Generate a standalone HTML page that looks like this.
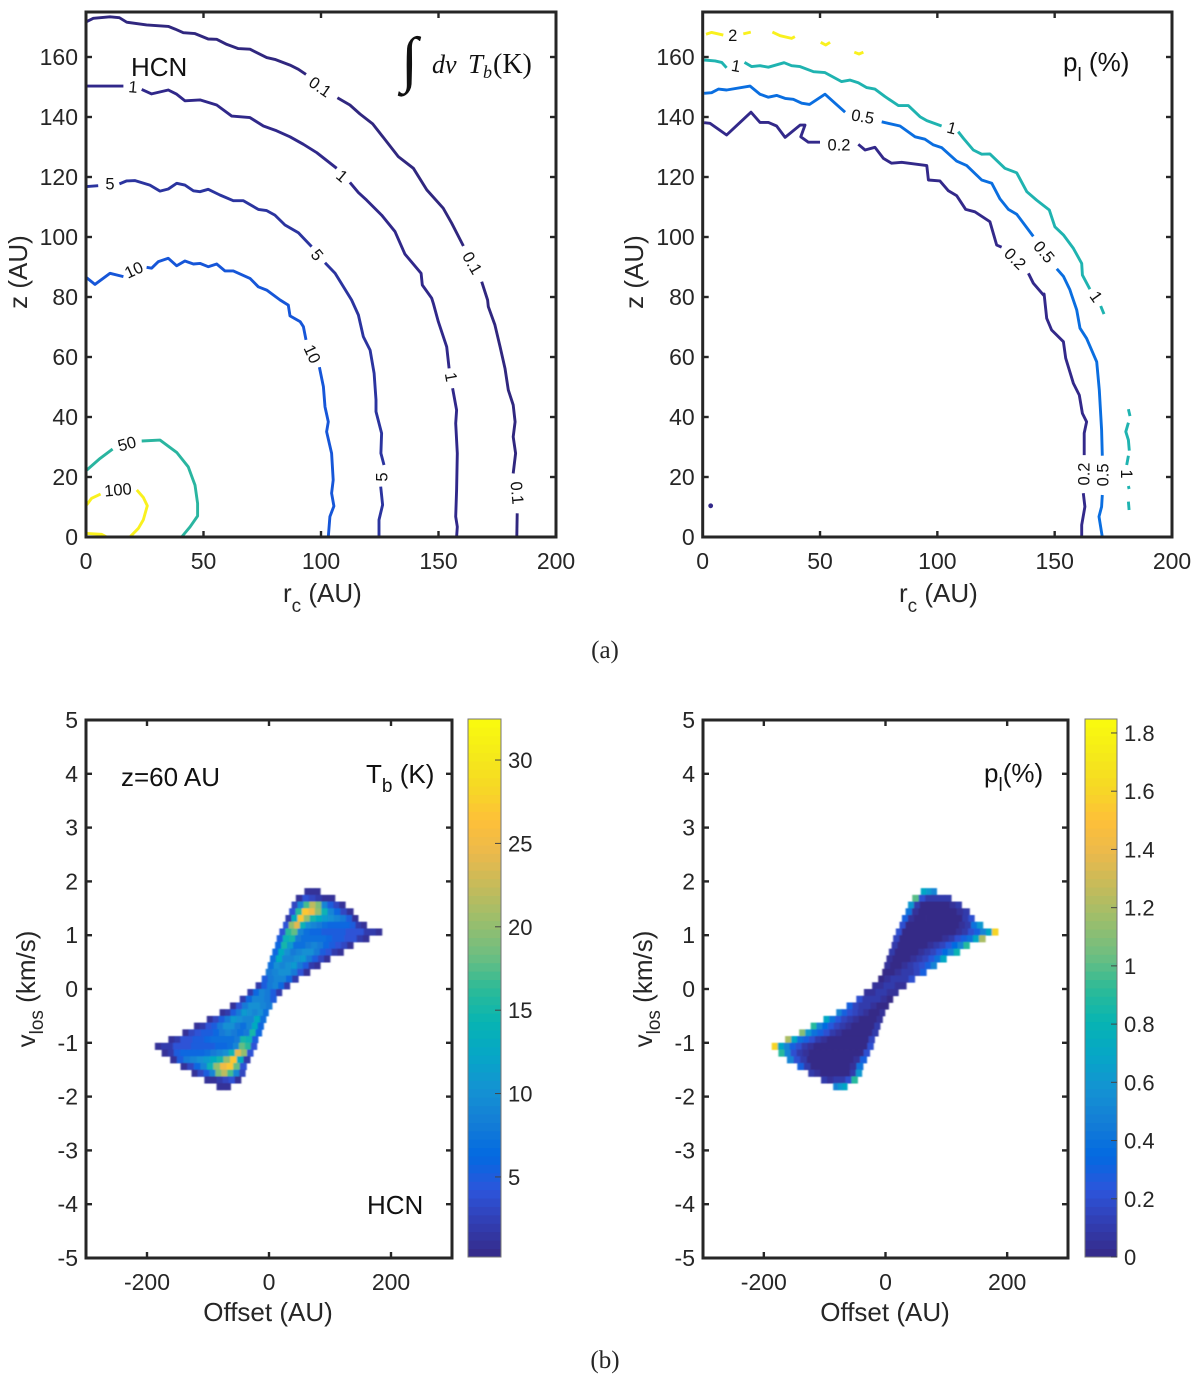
<!DOCTYPE html>
<html>
<head>
<meta charset="utf-8">
<title>HCN contours and position-velocity maps</title>
<style>
html,body{margin:0;padding:0;background:#fff;}
#stage{display:block;width:1200px;height:1377px;}
text{font-family:"Liberation Sans",Arial,sans-serif;fill:#262626;}
.ttl{font-size:26px;}
.tick{font-size:23px;}
.cb{font-size:22px;}
.sub{font-size:19px;}
.anno{font-size:26px;fill:#111;}
.clabel{font-size:16.5px;fill:#111;text-anchor:middle;}
text.math{font-family:"Liberation Serif",serif;fill:#111;}
</style>
</head>
<body>
<svg id="stage" xmlns="http://www.w3.org/2000/svg" width="1200" height="1377" viewBox="0 0 1200 1377">
<defs>
<filter id="soft" x="-5%" y="-5%" width="110%" height="110%"><feGaussianBlur stdDeviation="0.7 0.5"/></filter>
</defs>
<rect width="1200" height="1377" fill="#fff"/>

<g id="panelA1"></g>
<g id="panelA2"></g>
<g id="panelB1"></g>
<g id="panelB2"></g>
<g id="cbar1"></g>
<g id="cbar2"></g>

<text class="ttl" transform="translate(27,272) rotate(-90)" text-anchor="middle">z (AU)</text>
<text class="ttl" transform="translate(643,272) rotate(-90)" text-anchor="middle">z (AU)</text>
<text class="ttl" x="283" y="602">r<tspan class="sub" dy="10">c</tspan><tspan dy="-10"> (AU)</tspan></text>
<text class="ttl" x="899" y="602">r<tspan class="sub" dy="10">c</tspan><tspan dy="-10"> (AU)</tspan></text>

<text class="anno" x="131" y="76">HCN</text>
<text class="math" x="401" y="80" font-size="62" font-style="italic">∫</text>
<text class="math" x="432" y="73" font-size="26" font-style="italic">dv</text>
<text class="math" x="468" y="73" font-size="27"><tspan font-style="italic">T</tspan><tspan font-style="italic" font-size="18" dy="5">b</tspan></text>
<text class="math" x="493" y="73" font-size="28">(K)</text>
<text class="anno" x="1063" y="71">p<tspan class="sub" dy="10" font-size="17">l</tspan><tspan dy="-10"> (%)</tspan></text>

<text x="605" y="658" text-anchor="middle" font-size="25" style="font-family:'Liberation Serif',serif" fill="#111">(a)</text>
<text x="605" y="1368" text-anchor="middle" font-size="25" style="font-family:'Liberation Serif',serif" fill="#111">(b)</text>

<text class="ttl" transform="translate(35,989) rotate(-90)" text-anchor="middle">v<tspan class="sub" dy="8">los</tspan><tspan dy="-8"> (km/s)</tspan></text>
<text class="ttl" transform="translate(652,989) rotate(-90)" text-anchor="middle">v<tspan class="sub" dy="8">los</tspan><tspan dy="-8"> (km/s)</tspan></text>
<text class="ttl" x="268" y="1321" text-anchor="middle">Offset (AU)</text>
<text class="ttl" x="885" y="1321" text-anchor="middle">Offset (AU)</text>

<text class="anno" x="121" y="786">z=60 AU</text>
<text class="anno" x="366" y="783">T<tspan class="sub" dy="9">b</tspan><tspan dy="-9"> (K)</tspan></text>
<text class="anno" x="367" y="1214">HCN</text>
<text class="anno" x="984" y="782">p<tspan class="sub" dy="9" font-size="17">l</tspan><tspan dy="-9">(%)</tspan></text>

<script>
/* ---------- tick values ---------- */
const rTicks = [0, 50, 100, 150, 200];
const zTicks = [0, 20, 40, 60, 80, 100, 120, 140, 160];
const offsetTicks = [-200, 0, 200];
const vTicks = [-5, -4, -3, -2, -1, 0, 1, 2, 3, 4, 5];
const tbBarTicks = [5, 10, 15, 20, 25, 30];
const pBarTicks = [0, 0.2, 0.4, 0.6, 0.8, 1, 1.2, 1.4, 1.6, 1.8];
const pBarTickLabels = ["0", "0.2", "0.4", "0.6", "0.8", "1", "1.2", "1.4", "1.6", "1.8"];

/* ---------- HCN integrated intensity contours: segments of [r, z] ---------- */
const hcn01 = [
 [[0.3,171.8],[3.1,172.9],[10.2,173.4],[14.2,173.1],[17.3,171.6],[25.8,170.7],[35,170.2],[37.9,169.3],[41.4,168.1],[46.4,167.8],[52,166],[55.6,165.9],[59.9,164.2],[64.8,162.8],[69.8,162.6],[76.9,159.8],[80.4,159.2],[86.8,157.3],[90.4,155.9],[93.6,154.2]],
 [[107,146.4],[112.3,144],[116.6,141],[122,137.7],[126.5,133.2],[132.9,126.8],[139.3,122.9],[145,115.7],[152,109.6],[155.6,104.6],[160.6,97]],
 [[168.4,85.1],[170.9,79],[171.2,76.8],[174,70.7],[176.2,63.4],[178.3,56.2],[179.7,49],[181.8,44],[182.6,38.4],[181.8,33.4],[182.8,27.9],[181.8,21.2]],
 [[183.5,7.9],[183.3,0]]
];
const hcn1 = [
 [[0.3,150.3],[15.9,150.3]],
 [[23.7,149.2],[27.9,147.7],[35,149],[38.6,147.6],[42.1,145.4],[48.5,145.7],[55.6,144],[62,140.3],[69.8,139.8],[75.5,137],[81.1,135.4],[86.8,133.4],[92.5,130.9],[98.2,128.1],[106.7,122.9]],
 [[112.3,118.2],[115.9,114.8],[119.4,112.3],[125.8,107.3],[131.5,101.8],[135.7,94.3],[142.6,87.9],[143.1,84],[147.1,79.6],[147.8,77.9],[149.9,71.8],[153.5,63.4],[154.5,56.2]],
 [[156,49.6],[157.7,42.3],[157.3,37.9],[158,27.9],[157.7,15.7],[157.3,6.8],[158,3.4],[157.7,0]]
];
const hcn5 = [
 [[0.3,116.8],[5.2,117.1]],
 [[14.2,117.7],[17.3,118.7],[20.9,118.8],[27.2,117.3],[31.5,115.3],[35,116],[38.6,117.9],[42.1,117.3],[45.7,115.4],[48.5,115.1],[52,115.9],[57,114],[62.7,112.1],[67,112.1],[73.3,109.2],[76.9,108.8],[80.4,107.3],[84.7,104],[90.4,101.4],[96,96.8]],
 [[101.7,91.4],[106,87.9],[113,79],[115.9,74],[118,66.8],[120.9,62.3],[122.6,54.6],[123.4,45.7],[123.4,41.8],[125.8,34.6],[125.5,27.9],[126.8,24]],
 [[125.4,16.8],[126.2,10.7],[124.7,5.7],[124.7,0]]
];
const hcn10 = [
 [[0.3,86.4],[3.8,84.2],[10.2,87.9],[15.9,86.8]],
 [[25.8,89.9],[27.9,89.6],[30.8,91.8],[35,92.9],[38.6,90.4],[42.1,92],[45.7,91],[48.5,91.2],[52,90.1],[55.6,91],[59.1,88.7],[62.7,88.7],[69.8,86.2],[73.3,83.4],[76.9,82.3],[82.6,79],[86.1,77.3],[86.8,73.7],[91.1,71.8],[92.5,70.1],[93.6,65.7]],
 [[99.3,56.6],[101,50.1],[101.7,43.4],[103.1,38.4],[102.4,35.1],[104.5,27.9],[105.2,19],[104.5,14.6],[105.5,10.3],[103.8,6.8],[103.1,0]]
];
const hcn50 = [
 [[0.3,22.3],[6,26.2],[11.3,29.3]],
 [[23.7,32],[31.5,32.3],[38.6,28.2],[43.5,23.4],[46.4,17.3],[47.5,11.2],[47.5,7],[44.3,3.4],[40.7,0]]
];
const hcn100 = [
 [[0.3,10.7],[2.4,12.9],[6.2,14.3]],
 [[21.6,15.7],[24.4,13.2],[26.1,10.4],[24.4,5.7],[22.3,2.9],[18.7,0]],
 [[0.3,1.2],[6.6,0.9],[8.8,0]]
];
const hcnLabels = [["0.1",99.6,150,35],["1",20,150,5],["5",10.2,117.7,0],["10",20.4,89,-25],["1",108.9,120.3,40],["5",98.3,94,50],["0.1",164.3,91.3,60],["10",96.2,61,65],["1",155.3,53.3,80],["5",126,20,-90],["0.1",183.4,14.7,85],["50",17.4,31,-15],["100",13.6,15.7,-5]];

/* ---------- polarization contours: segments of [r, z] ---------- */
const pol02 = [
 [[0.6,138.1],[3.1,137.9],[10.2,134],[20.6,141.6],[24.4,138.2],[28,138.2],[31.5,137],[35.1,133.2],[41.5,137.3],[43.6,137.3],[41.8,133.4],[45,131.6],[50,131.6]],
 [[66.3,130.9],[69.2,129],[73.4,129.9],[77,126.2],[80.5,124.6],[84.8,124.9],[95.5,123.8],[96.2,119],[101.1,118.7],[104.7,115.4],[108.2,113.8],[112.1,109.2],[116,108.4],[122.4,105.1],[125.3,97.3],[127.4,96.6]],
 [[138.8,87.9],[140.9,84.6],[145.2,80.7],[145.5,81],[146.6,72.9],[148.7,69],[153.7,65.1],[154.7,59.6],[158,51.2],[160.5,47.3],[161.8,41.2],[163.6,38.4],[162.6,34.6],[162.6,27.3]],
 [[162.2,14.6],[162.9,10.1],[161.5,4],[161.5,0]]
];
const pol05 = [
 [[0.6,147.9],[3.8,148.1],[6.7,149.3],[10.2,149],[20.2,150.3],[24.4,147.6],[28,146.6],[31.5,147.2],[35.1,146.2],[38.6,145.9],[42.2,144.6],[45.5,144.2],[52.1,147.6],[56.4,144.6],[60.7,141.6]],
 [[76.3,138.4],[84.1,137],[90.5,133.4],[94.7,132.6],[98.3,130.7],[101.8,129.8],[108.2,125.3],[112.5,123.8],[118.9,119],[123.2,117.9],[126.7,112.7],[130.3,109.2],[133.8,107.6],[140.9,100.2]],
 [[150.9,89.4],[153.7,86.9],[156.5,82.4],[157.2,80.7],[159.4,75.7],[160.8,69.6],[163.6,66.2],[167.9,58.4],[169,49],[170,35.7],[170.3,27.1]],
 [[170.3,14],[170,10.1],[168.9,6.8],[170.3,0]]
];
const pol1 = [
 [[0.6,159],[5.3,158.7],[8.1,158.2],[10.2,156.4]],
 [[17.8,158.2],[20.9,156.8],[24.4,157.1],[28,156.6],[34.7,158.1],[37.9,157.1],[41.5,156.8],[47.2,155.1],[52.1,154.8],[59.2,151.8],[62.8,152.3],[66.3,151.4],[69.9,149.8],[73.4,149.3],[77.7,146.8],[83.4,143.8],[87.6,143.8],[92.6,140.1],[95.5,138.8],[101.8,137]],
 [[108.9,135.1],[111.1,132.9],[115.3,129],[118.9,127.6],[122.4,127.7],[128.8,122.9],[133.8,121.4],[138.1,115.1],[142.3,112.3],[147.7,109],[150.1,103.4],[153.7,100.7],[158,96.2],[161.5,91.2],[161.8,87.3],[165,82.6]],
 [[169.6,77],[171,74.3]],
 [[181.4,42.6],[182.1,40.3]],
 [[181.4,38.1],[180.3,35.1],[181.4,32.3],[181.8,28.8]],
 [[181.4,27.1],[180.7,24]],
 [[181.4,17],[181.7,16]],
 [[181.4,11.8],[181.7,9]]
];
const pol2 = [
 [[1.4,167.6],[3.8,168.2],[8.8,167.3]],
 [[17.3,167.7],[20.5,168.3]],
 [[29.7,168.3],[33,167.1],[37.9,166.2],[39.3,166.8]],
 [[50.3,164.9],[52.4,164],[54.3,164.9]],
 [[64.6,161.6],[66.6,161],[68.5,161.6]]
];
const polDot = [3.4, 10.4];
const polLabels = [["2",12.8,167.1,0],["1",14.2,157,10],["0.5",68.2,140.1,10],["0.2",58.1,130.7,0],["1",106.1,136.3,15],["0.5",145.4,95,50],["0.2",133.1,92.7,45],["1",167.6,80.1,55],["0.2",162.5,21,-90],["0.5",170.6,20.7,-90],["1",180.7,21,90]];

/* ---------- position-velocity maps ---------- */
const vRowTop = [1.875,1.75,1.625,1.5,1.375,1.25,1.125,1,0.875,0.75,0.625,0.5,0.375,0.25,0.125,0,-0.125,-0.25,-0.375,-0.5,-0.625,-0.75,-0.875,-1,-1.125,-1.25,-1.375,-1.5,-1.625,-1.75];
const rowLeft  = [58,44,37,33,27,23,17,12.6,10,5.5,1.6,-2,-5.4,-12,-22,-35.5,-48,-64,-81,-102,-123,-142,-165,-187,-176,-162,-145,-127,-106,-86];
const rowRight = [84,108,125,138,146,160,185,164,138,122,100,84,67,48,34,21,12,5,-1,-5,-9,-12,-18,-20,-26,-31,-37,-39,-46,-63];
const tbRows = [
 [1,1,1],
 [1,4,3,2,1,1],
 [3,9,17,22,19,9,5,3,1],
 [4,16,27,25,20,14,9,6,3,1],
 [2,13,27,20,15,13,11,10,9,8,5,1],
 [4,20,24,14,10,9,8,7,6,6,6,6,5,2,1],
 [4,16,18,9,7,6,6,5,5,5,5,4,4,4,2,2,1],
 [5,14,15,8,7,7,7,7,6,5,5,4,4,2,1],
 [6,15,11,7,7,8,9,8,6,5,4,3,1],
 [6,13,10,8,9,10,10,8,5,4,2,1],
 [7,13,9,9,10,11,8,5,3,1],
 [7,10,9,10,11,8,5,2,1],
 [8,9,10,10,8,4,1],
 [5,8,9,9,6,2],
 [2,5,8,9,6,2],
 [2,6,9,8,5,2],
 [2,6,9,9,8,5],
 [1,4,8,10,10,9,8],
 [1,2,5,8,11,10,9,10,7],
 [1,3,5,8,11,10,9,9,13,7],
 [1,2,4,5,8,10,10,8,7,9,13,6],
 [1,3,4,5,5,6,8,9,8,7,8,15,6],
 [1,2,4,4,5,5,6,7,7,7,7,8,15,14,5],
 [1,2,2,4,4,4,5,5,5,5,6,6,7,9,18,16,4],
 [1,2,5,6,6,6,6,7,8,9,10,14,24,20,4],
 [1,5,8,9,10,11,13,15,20,27,13,2],
 [1,3,6,9,14,20,25,27,18,4],
 [1,3,5,9,19,22,17,9,3],
 [1,1,2,3,4,1],
 [1,1,1]
];
const pRows = [
 [0.7,0.6,0.5],
 [1.0,0.2,0.1,0.1,0.1,0.1],
 [0.6,0.1,0,0,0,0,0,0.05,0.1],
 [0.4,0.05,0,0,0,0,0,0,0.05,0.1],
 [0.3,0.05,0,0,0,0,0,0,0,0,0.1,0.2],
 [0.2,0,0,0,0,0,0,0,0,0,0.05,0.1,0.4,0.6],
 [0.2,0,0,0,0,0,0,0,0,0,0.05,0.1,0.2,0.3,0.5,0.7,1.6],
 [0.15,0,0,0,0,0,0,0,0.05,0.1,0.2,0.3,0.4,0.7,1.2],
 [0.1,0,0,0,0,0,0.05,0.1,0.15,0.25,0.35,0.5,0.9],
 [0.1,0,0,0,0,0.05,0.1,0.15,0.25,0.35,0.5,0.8],
 [0.05,0,0,0,0.05,0.1,0.15,0.25,0.4,0.7],
 [0.05,0,0,0.05,0.1,0.15,0.2,0.3,0.5],
 [0,0,0.05,0.1,0.1,0.15,0.3],
 [0,0.05,0.1,0.1,0.1,0.2],
 [0.05,0.05,0.1,0.1,0.05,0.05],
 [0.05,0.05,0.1,0.1,0.05,0.05],
 [0.2,0.1,0.1,0.1,0.05,0],
 [0.3,0.15,0.1,0.1,0.05,0,0],
 [0.5,0.3,0.2,0.15,0.1,0.05,0,0,0.05],
 [0.7,0.4,0.25,0.15,0.1,0.05,0,0,0,0.05],
 [0.9,0.5,0.35,0.25,0.15,0.1,0.05,0,0,0,0,0.1],
 [1.1,0.6,0.4,0.3,0.2,0.1,0.05,0,0,0,0,0,0.1],
 [1.2,0.7,0.4,0.3,0.2,0.1,0.05,0,0,0,0,0,0,0,0.15],
 [1.6,0.7,0.5,0.3,0.2,0.1,0.05,0,0,0,0,0,0,0,0,0,0.2],
 [0.9,0.5,0.2,0.1,0.05,0,0,0,0,0,0,0,0,0,0.2],
 [0.5,0.2,0.1,0,0,0,0,0,0,0,0.05,0.3],
 [0.3,0.1,0,0,0,0,0,0,0.05,0.4],
 [0.1,0.05,0,0,0,0,0,0.1,0.6],
 [0.1,0.05,0.1,0.1,0.2,0.9],
 [0.5,0.6,0.7]
];
const tbRange = [0.2, 32.46];
const pRange = [0, 1.848];

/* ---------- colormap (parula) ---------- */
const parula = [[53,42,135],[50,61,177],[44,85,219],[3,105,225],[20,125,214],[20,147,210],[6,166,198],[7,180,178],[46,187,151],[111,190,128],[154,190,108],[196,187,91],[234,185,76],[254,192,56],[246,217,37],[245,235,24],[249,251,14]];
function cmap(t){
  t = Math.max(0, Math.min(1, t)) * (parula.length - 1);
  const i = Math.min(parula.length - 2, Math.floor(t)), f = t - i;
  const c = parula[i].map(function(a, k){ return Math.round(a + (parula[i + 1][k] - a) * f); });
  return "rgb(" + c.join(",") + ")";
}

/* ---------- helpers ---------- */
const NS = "http://www.w3.org/2000/svg";
function mk(tag, parent, attrs){
  const el = document.createElementNS(NS, tag);
  for (const k in attrs) el.setAttribute(k, attrs[k]);
  parent.appendChild(el);
  return el;
}
function scale(d0, d1, r0, r1){
  return function(v){ return r0 + (v - d0) * (r1 - r0) / (d1 - d0); };
}
function drawAxes(g, box, xs, ys, xT, yT){
  const stroke = "#262626";
  xT.forEach(function(t){
    const x = xs(t);
    const top = mk("line", g, {x1:x, x2:x, y1:box.top, y2:box.top + 6, stroke:stroke, "stroke-width":2.4});
    
    
    const bot = mk("line", g, {x1:x, x2:x, y1:box.bottom, y2:box.bottom - 6, stroke:stroke, "stroke-width":2.4});
    
    
    const lab = mk("text", g, {x:x, y:box.bottom + 32, "text-anchor":"middle", "class":"tick"});
    
    
    lab.textContent = String(t);
  });
  yT.forEach(function(t){
    const y = ys(t);
    const l = mk("line", g, {x1:box.left, x2:box.left + 6, y1:y, y2:y, stroke:stroke, "stroke-width":2.4});
    
    
    const r = mk("line", g, {x1:box.right, x2:box.right - 6, y1:y, y2:y, stroke:stroke, "stroke-width":2.4});
    
    
    const lab = mk("text", g, {x:box.left - 8, y:y + 8, "text-anchor":"end", "class":"tick"});
    
    
    lab.textContent = String(t);
  });
  const frame = mk("rect", g, {x:box.left, y:box.top, width:box.right - box.left, height:box.bottom - box.top, fill:"none", stroke:stroke, "stroke-width":3});
  
  
}
function drawContour(g, segments, color, xs, ys, name){
  segments.forEach(function(seg){
    const pts = seg.map(function(p){ return xs(p[0]).toFixed(1) + "," + ys(p[1]).toFixed(1); }).join(" ");
    const line = mk("polyline", g, {points:pts, fill:"none", stroke:color, "stroke-width":2.9, "stroke-linejoin":"round"});
    
    
  });
}
function drawLabels(g, labels, xs, ys){
  labels.forEach(function(l){
    const x = xs(l[1]), y = ys(l[2]);
    const t = mk("text", g, {x:0, y:5.5, "class":"clabel", transform:"translate(" + x.toFixed(1) + "," + y.toFixed(1) + ") rotate(" + l[3] + ")"});
    
    
    t.textContent = l[0];
  });
}
function drawHeat(g, rows, range, xs, ys){
  const heat = mk("g", g, {filter:"url(#soft)"});
  
  
  const dv = 0.125;
  rows.forEach(function(vals, i){
    const x0 = xs(rowLeft[i]), x1 = xs(rowRight[i]);
    const w = (x1 - x0) / vals.length;
    const y0 = ys(vRowTop[i]), y1 = ys(vRowTop[i] - dv);
    vals.forEach(function(v, j){
      const c = mk("rect", heat, {x:(x0 + j * w).toFixed(2), y:y0.toFixed(2), width:(w + 0.4).toFixed(2), height:(y1 - y0 + 0.4).toFixed(2), fill:cmap((v - range[0]) / (range[1] - range[0]))});
      
      
    });
  });
}
function drawBar(g, left, right, top, bottom, range, ticks, labels){
  const ys = scale(range[0], range[1], bottom, top);
  const n = 64, h = (bottom - top) / n;
  for (let i = 0; i < n; i++){
    const band = mk("rect", g, {x:left, y:(bottom - (i + 1) * h).toFixed(2), width:right - left, height:(h + 0.4).toFixed(2), fill:cmap((i + 0.5) / n)});
    
    
  }
  const frame = mk("rect", g, {x:left, y:top, width:right - left, height:bottom - top, fill:"none", stroke:"#777", "stroke-width":1});
  
  
  ticks.forEach(function(t, i){
    const y = ys(t);
    const m = mk("line", g, {x1:right - 6, x2:right, y1:y, y2:y, stroke:"#444", "stroke-width":1});
    
    
    const lab = mk("text", g, {x:right + 7, y:y + 8, "class":"cb"});
    
    
    lab.textContent = labels ? labels[i] : String(t);
  });
}

/* ---------- panels ---------- */
(function(){
  const g = document.getElementById("panelA1");
  const box = {left:86, right:556, top:12, bottom:537};
  const xs = scale(0, 200, box.left, box.right), ys = scale(0, 175, box.bottom, box.top);
  drawContour(g, hcn01, "#30277f", xs, ys, "contour-0.1");
  drawContour(g, hcn1, "#30288a", xs, ys, "contour-1");
  drawContour(g, hcn5, "#2b349f", xs, ys, "contour-5");
  drawContour(g, hcn10, "#1656d8", xs, ys, "contour-10");
  drawContour(g, hcn50, "#2ab5a0", xs, ys, "contour-50");
  drawContour(g, hcn100, "#f9f11e", xs, ys, "contour-100");
  drawLabels(g, hcnLabels, xs, ys);
  drawAxes(g, box, xs, ys, rTicks, zTicks);
})();
(function(){
  const g = document.getElementById("panelA2");
  const box = {left:702.7, right:1172, top:12, bottom:537};
  const xs = scale(0, 200, box.left, box.right), ys = scale(0, 175, box.bottom, box.top);
  drawContour(g, pol02, "#33298a", xs, ys, "contour-0.2");
  drawContour(g, pol05, "#0a6ee0", xs, ys, "contour-0.5");
  drawContour(g, pol1, "#1fb3b0", xs, ys, "contour-1");
  drawContour(g, pol2, "#f9f11e", xs, ys, "contour-2");
  const dot = mk("circle", g, {cx:xs(polDot[0]), cy:ys(polDot[1]), r:2.4, fill:"#33298a"});
  
  
  drawLabels(g, polLabels, xs, ys);
  drawAxes(g, box, xs, ys, rTicks, zTicks);
})();
(function(){
  const g = document.getElementById("panelB1");
  const box = {left:86, right:452, top:720, bottom:1258};
  const xs = scale(-300, 300, box.left, box.right), ys = scale(-5, 5, box.bottom, box.top);
  drawHeat(g, tbRows, tbRange, xs, ys);
  drawAxes(g, box, xs, ys, offsetTicks, vTicks);
})();
(function(){
  const g = document.getElementById("panelB2");
  const box = {left:703, right:1068, top:720, bottom:1258};
  const xs = scale(-300, 300, box.left, box.right), ys = scale(-5, 5, box.bottom, box.top);
  drawHeat(g, pRows, pRange, xs, ys);
  drawAxes(g, box, xs, ys, offsetTicks, vTicks);
})();
drawBar(document.getElementById("cbar1"), 468, 501, 719, 1257, tbRange, tbBarTicks);
drawBar(document.getElementById("cbar2"), 1085, 1117, 719, 1257, pRange, pBarTicks, pBarTickLabels);
</script>
</svg>
</body>
</html>
